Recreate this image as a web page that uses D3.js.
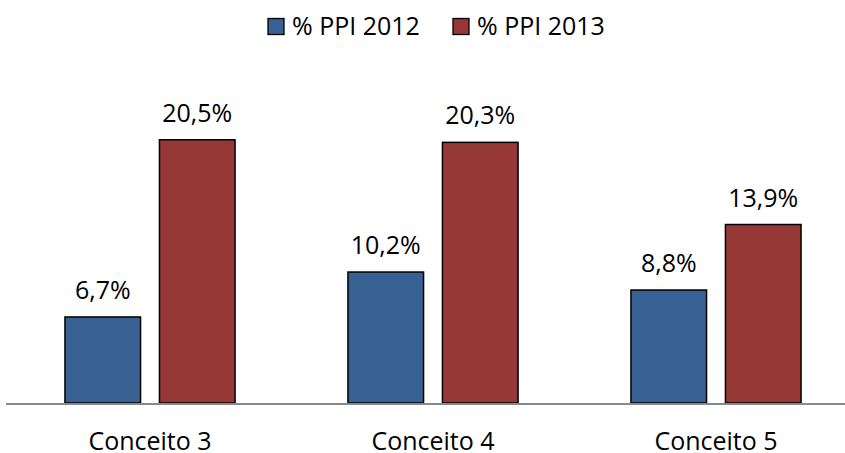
<!DOCTYPE html>
<html><head><meta charset="utf-8">
<script src="https://cdn.jsdelivr.net/npm/d3@7"></script>
<style>body{margin:0;background:#fff}text{font-family:"Open Sans",sans-serif;fill:#000}</style>
</head><body>
<svg id="c" width="845" height="453"></svg>
<script>
const categories = ["Conceito 3", "Conceito 4", "Conceito 5"];
const seriesNames = ["% PPI 2012", "% PPI 2013"];
const ppi2012 = [6.7, 10.2, 8.8];
const ppi2013 = [20.5, 20.3, 13.9];
const colors = ["#376193", "#963836"];

const svg = d3.select("#c");
const baseY = 403;
const x = d3.scaleBand().domain(categories).range([8.5, 857.5]).paddingInner(0).paddingOuter(0);
const x1 = d3.scaleBand().domain(seriesNames).range([0, x.bandwidth()]).paddingInner(0.2).paddingOuter(0.5975);
const y = d3.scaleLinear().domain([0, 25]).range([baseY, baseY - 25 * 12.84]);

const data = categories.map((c, i) => ({c, vals: [ppi2012[i], ppi2013[i]]}));
const fmt = v => v.toFixed(1).replace(".", ",") + "%";

const g = svg.selectAll("g.cat").data(data).enter().append("g").attr("transform", d => `translate(${x(d.c)},0)`);
g.selectAll("rect").data(d => d.vals.map((v, j) => ({v, s: seriesNames[j], j}))).enter().append("rect")
  .attr("x", d => x1(d.s)).attr("width", x1.bandwidth())
  .attr("y", d => y(d.v)).attr("height", d => baseY - y(d.v))
  .attr("fill", d => colors[d.j]).attr("stroke", "#000").attr("stroke-width", 1.5);
g.selectAll("text.lbl").data(d => d.vals.map((v, j) => ({v, s: seriesNames[j], j}))).enter().append("text")
  .attr("class", "lbl").attr("x", d => x1(d.s) + x1.bandwidth() / 2).attr("y", d => y(d.v) - 18)
  .attr("text-anchor", "middle").attr("font-size", 25).text(d => fmt(d.v));

// axis
const axis = d3.axisBottom(x).tickSize(0).tickPadding(0);
const ax = svg.append("g").attr("transform", `translate(0,${baseY})`).call(axis);
ax.select(".domain").remove();
svg.append("line").attr("x1", 6).attr("x2", 845).attr("y1", baseY + 1).attr("y2", baseY + 1).attr("stroke", "#898989").attr("stroke-width", 2);
ax.selectAll(".tick text").attr("font-size", 25).attr("dy", 0).attr("y", 47).attr("fill", "#000").style("font-family", '"Open Sans",sans-serif');

// legend
const leg = svg.append("g");
const legX = [268, 453];
seriesNames.forEach((s, i) => {
  leg.append("rect").attr("x", legX[i]).attr("y", 18.5).attr("width", 16).attr("height", 16).attr("fill", colors[i]).attr("stroke", "#000").attr("stroke-width", 1.3);
  leg.append("text").attr("x", legX[i] + 24).attr("y", 35).attr("font-size", 25).text(s);
});
</script>
</body></html>
